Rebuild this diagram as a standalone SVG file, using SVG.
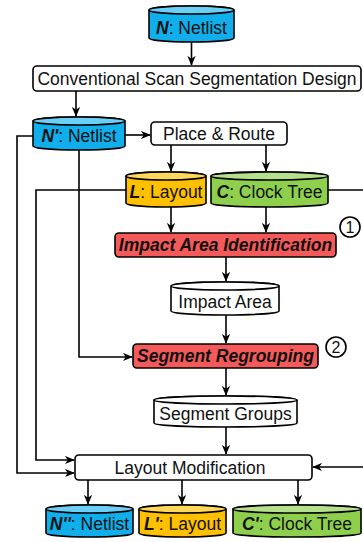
<svg xmlns="http://www.w3.org/2000/svg" width="363" height="542" viewBox="0 0 363 542">
<defs>
<marker id="arr" viewBox="0 0 12 10" refX="11" refY="5" markerWidth="10" markerHeight="9" orient="auto" markerUnits="userSpaceOnUse">
<path d="M0,0 L12,5 L0,10 L3.5,5 Z" fill="#000"/>
</marker>
<style>
.box{fill:#fff;stroke:#000;stroke-width:1.6}
.red{fill:#f55a5a;stroke:#000;stroke-width:1.6}
.c{stroke:#000;stroke-width:1.6}
.blue{fill:#10aeea}.blueT{fill:#6cd0f6}
.yel{fill:#ffc000}.yelT{fill:#ffd75a}
.grn{fill:#8ed04e}.grnT{fill:#b5e08c}
.wht{fill:#fff}.whtT{fill:#fff}
.t{font-family:"Liberation Sans",Arial,sans-serif;font-size:17.5px;fill:#111;text-anchor:middle;dominant-baseline:central}
.bi{font-weight:bold;font-style:italic}
.con{fill:none;stroke:#000;stroke-width:1.6}
</style>
</defs>
<g id="connectors">
<line class="con" x1="191.5" y1="42" x2="191.5" y2="65" marker-end="url(#arr)"/>
<line class="con" x1="76" y1="91" x2="76" y2="116" marker-end="url(#arr)"/>
<line class="con" x1="125" y1="135" x2="150" y2="135" marker-end="url(#arr)"/>
<line class="con" x1="171" y1="145" x2="171" y2="171" marker-end="url(#arr)"/>
<line class="con" x1="266" y1="145" x2="266" y2="171" marker-end="url(#arr)"/>
<line class="con" x1="171" y1="207" x2="171" y2="232" marker-end="url(#arr)"/>
<line class="con" x1="266" y1="207" x2="266" y2="232" marker-end="url(#arr)"/>
<line class="con" x1="226" y1="257" x2="226" y2="281" marker-end="url(#arr)"/>
<line class="con" x1="226" y1="315" x2="226" y2="343" marker-end="url(#arr)"/>
<line class="con" x1="226" y1="368" x2="226" y2="395" marker-end="url(#arr)"/>
<line class="con" x1="226" y1="427" x2="226" y2="454" marker-end="url(#arr)"/>
<line class="con" x1="88" y1="480" x2="88" y2="504" marker-end="url(#arr)"/>
<line class="con" x1="182" y1="480" x2="182" y2="504" marker-end="url(#arr)"/>
<line class="con" x1="298" y1="480" x2="298" y2="504" marker-end="url(#arr)"/>
<polyline class="con" points="33,136 17,136 17,473 74,473" marker-end="url(#arr)"/>
<polyline class="con" points="126,190 36,190 36,460 74,460" marker-end="url(#arr)"/>
<polyline class="con" points="79,150 79,357 132,357" marker-end="url(#arr)"/>
<line class="con" x1="328" y1="190" x2="363" y2="190"/>
<line class="con" x1="363" y1="467" x2="313" y2="467" marker-end="url(#arr)"/>
</g>
<g id="n-netlist">
<path class="blue c" d="M149,10 A42.5,4 0 0 1 234,10 V38 A42.5,4 0 0 1 149,38 Z"/>
<ellipse class="blueT c" cx="191.5" cy="10" rx="42.5" ry="4"/>
<text class="t" x="191.5" y="27.5"><tspan class="bi">N</tspan>: Netlist</text>
</g>
<g id="conventional">
<rect class="box" x="33" y="66" width="328" height="25" rx="4"/>
<text class="t" x="197" y="78.5">Conventional Scan Segmentation Design</text>
</g>
<g id="n1-netlist">
<path class="blue c" d="M33,121 A46,4 0 0 1 125,121 V146 A46,4 0 0 1 33,146 Z"/>
<ellipse class="blueT c" cx="79" cy="121" rx="46" ry="4"/>
<text class="t" x="79" y="135.5"><tspan class="bi">N'</tspan>: Netlist</text>
</g>
<g id="place-route">
<rect class="box" x="151" y="122" width="136" height="23" rx="4"/>
<text class="t" x="219" y="133.5">Place &amp; Route</text>
</g>
<g id="layout">
<path class="yel c" d="M126,176 A40,4 0 0 1 206,176 V203 A40,4 0 0 1 126,203 Z"/>
<ellipse class="yelT c" cx="166" cy="176" rx="40" ry="4"/>
<text class="t" x="166" y="192"><tspan class="bi">L</tspan>: Layout</text>
</g>
<g id="clock-tree">
<path class="grn c" d="M211,176 A58.5,4 0 0 1 328,176 V203 A58.5,4 0 0 1 211,203 Z"/>
<ellipse class="grnT c" cx="269.5" cy="176" rx="58.5" ry="4"/>
<text class="t" x="269.5" y="192"><tspan class="bi">C</tspan>: Clock Tree</text>
</g>
<g id="impact-id">
<rect class="red" x="115" y="233" width="221" height="24" rx="4"/>
<text class="t bi" x="225.5" y="245">Impact Area Identification</text>
</g>
<g id="badge1">
<circle cx="350" cy="227" r="10" fill="#fff" stroke="#000" stroke-width="1.6"/>
<text class="t" x="350" y="227" style="font-size:16px">1</text>
</g>
<g id="impact-area">
<path class="wht c" d="M171,286 A54,4 0 0 1 279,286 V311 A54,4 0 0 1 171,311 Z"/>
<ellipse class="whtT c" cx="225" cy="286" rx="54" ry="4"/>
<text class="t" x="225" y="302">Impact Area</text>
</g>
<g id="segment-regrouping">
<rect class="red" x="133" y="344" width="185" height="24" rx="4"/>
<text class="t bi" x="225.5" y="356">Segment Regrouping</text>
</g>
<g id="badge2">
<circle cx="336" cy="347" r="10" fill="#fff" stroke="#000" stroke-width="1.6"/>
<text class="t" x="336" y="347" style="font-size:16px">2</text>
</g>
<g id="segment-groups">
<path class="wht c" d="M154,400 A71.5,4 0 0 1 297,400 V423 A71.5,4 0 0 1 154,423 Z"/>
<ellipse class="whtT c" cx="225.5" cy="400" rx="71.5" ry="4"/>
<text class="t" x="225.5" y="414">Segment Groups</text>
</g>
<g id="layout-mod">
<rect class="box" x="75" y="455" width="237" height="25" rx="4"/>
<text class="t" x="190" y="467.5">Layout Modification</text>
</g>
<g id="n2-netlist">
<path class="blue c" d="M46,509 A43.5,4 0 0 1 133,509 V533 A43.5,4 0 0 1 46,533 Z"/>
<ellipse class="blueT c" cx="89.5" cy="509" rx="43.5" ry="4"/>
<text class="t" x="89.5" y="524"><tspan class="bi">N''</tspan>: Netlist</text>
</g>
<g id="layout2">
<path class="yel c" d="M139,509 A43.5,4 0 0 1 226,509 V533 A43.5,4 0 0 1 139,533 Z"/>
<ellipse class="yelT c" cx="182.5" cy="509" rx="43.5" ry="4"/>
<text class="t" x="182.5" y="524"><tspan class="bi">L'</tspan>: Layout</text>
</g>
<g id="clock-tree2">
<path class="grn c" d="M233,509 A64,4 0 0 1 361,509 V533 A64,4 0 0 1 233,533 Z"/>
<ellipse class="grnT c" cx="297" cy="509" rx="64" ry="4"/>
<text class="t" x="297" y="524"><tspan class="bi">C'</tspan>: Clock Tree</text>
</g>
</svg>
